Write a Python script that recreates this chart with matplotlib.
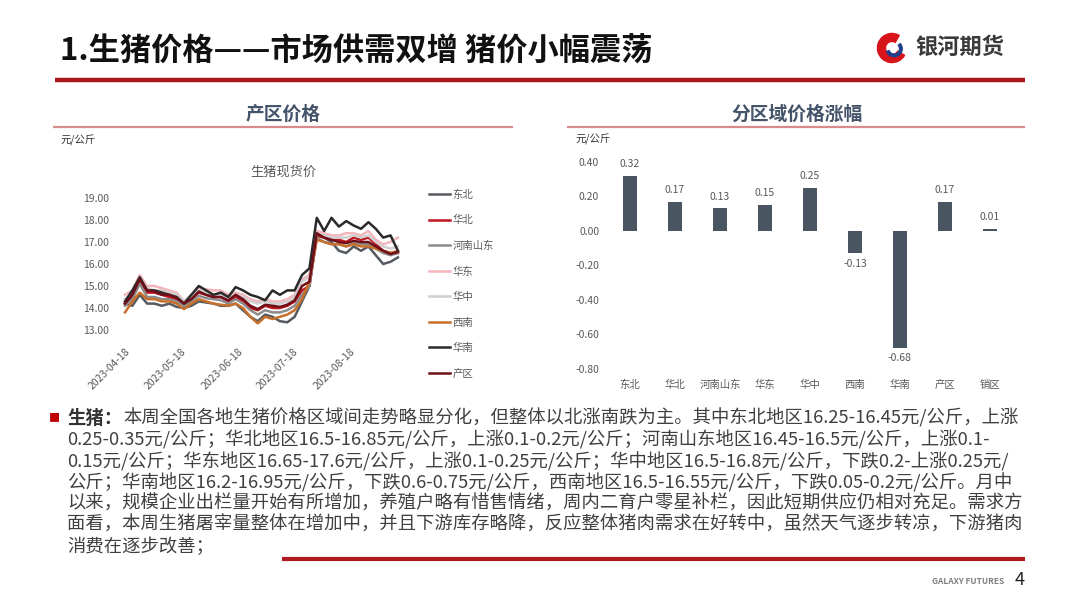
import numpy as np
import pandas as pd
import matplotlib
matplotlib.use("Agg")
import matplotlib.pyplot as plt
import matplotlib.dates as mdates
from matplotlib.lines import Line2D
from matplotlib.patches import Wedge

plt.rcParams['font.family'] = ['Noto Sans CJK SC', 'DejaVu Sans']

# ---- 数据 ----
dates = pd.date_range('2023-04-18', periods=38, freq='4D')

north_east = [14.2, 14.1, 14.6, 14.2, 14.2, 14.1, 14.2, 14.05, 14.0, 14.1, 14.3, 14.25, 14.2, 14.1,
              14.1, 14.2, 13.9, 13.6, 13.4, 13.7, 13.6, 13.4, 13.35, 13.6, 14.3, 15.0, 17.3, 17.2,
              17.0, 16.6, 16.5, 16.8, 16.6, 16.8, 16.4, 16.0, 16.1, 16.3]
north = [14.2, 14.5, 15.2, 14.7, 14.7, 14.6, 14.5, 14.4, 14.2, 14.4, 14.7, 14.6, 14.5, 14.5,
         14.3, 14.5, 14.3, 14.0, 13.9, 14.1, 14.0, 14.0, 14.1, 14.3, 14.8, 15.0, 17.3, 17.2,
         17.1, 17.1, 17.0, 17.2, 17.1, 17.2, 16.9, 16.6, 16.5, 16.5]
henan_sd = [14.1, 14.4, 15.1, 14.5, 14.5, 14.4, 14.4, 14.3, 14.1, 14.3, 14.55, 14.45, 14.4, 14.35,
            14.2, 14.4, 14.2, 13.9, 13.7, 13.9, 13.8, 13.8, 13.9, 14.1, 14.6, 15.0, 17.2, 17.0,
            16.9, 16.9, 16.8, 16.95, 16.9, 16.9, 16.7, 16.5, 16.4, 16.5]
east = [14.6, 14.8, 15.5, 15.0, 15.0, 14.9, 14.8, 14.7, 14.3, 14.6, 14.9, 14.85, 14.8, 14.8,
        14.6, 14.7, 14.6, 14.4, 14.3, 14.4, 14.3, 14.3, 14.4, 14.6, 15.3, 15.5, 17.5, 17.4,
        17.3, 17.3, 17.4, 17.4, 17.3, 17.5, 17.1, 16.9, 17.0, 17.2]
central = [14.4, 14.7, 15.3, 14.9, 14.8, 14.8, 14.7, 14.6, 14.3, 14.5, 14.8, 14.7, 14.6, 14.6,
           14.5, 14.6, 14.5, 14.3, 14.2, 14.3, 14.2, 14.2, 14.3, 14.5, 15.2, 15.4, 17.4, 17.3,
           17.2, 17.2, 17.2, 17.3, 17.2, 17.3, 17.0, 16.8, 16.7, 16.8]
south_west = [13.8, 14.3, 14.7, 14.4, 14.4, 14.3, 14.3, 14.2, 13.95, 14.2, 14.4, 14.3, 14.2, 14.15,
              14.1, 14.2, 14.0, 13.6, 13.3, 13.6, 13.5, 13.6, 13.7, 13.9, 14.4, 15.2, 17.1, 17.0,
              16.9, 16.9, 16.8, 16.9, 16.8, 16.8, 16.7, 16.6, 16.5, 16.6]
south = [14.3, 14.8, 15.4, 14.8, 14.8, 14.7, 14.6, 14.5, 14.2, 14.6, 15.0, 14.8, 14.6, 14.7,
         14.5, 14.95, 14.8, 14.6, 14.5, 14.35, 14.8, 14.6, 14.8, 14.8, 15.5, 15.8, 18.1, 17.5,
         18.1, 17.7, 17.95, 17.75, 17.6, 17.9, 17.6, 17.2, 17.3, 16.6]
producing = [14.2, 14.6, 15.3, 14.8, 14.75, 14.6, 14.6, 14.45, 14.2, 14.4, 14.75, 14.6, 14.5, 14.5,
             14.35, 14.6, 14.4, 14.1, 13.95, 14.15, 14.1, 14.05, 14.15, 14.35, 15.0, 15.2, 17.4, 17.2,
             17.1, 17.0, 16.95, 17.05, 17.0, 17.0, 16.8, 16.6, 16.45, 16.55]

series_names = ['东北', '华北', '河南山东', '华东', '华中', '西南', '华南', '产区']
series_vals = [north_east, north, henan_sd, east, central, south_west, south, producing]
series_colors = ['#555a60', '#c0161e', '#8c8c8c', '#f4b6bc', '#d0d0d0', '#c8702a', '#2a2a2a', '#6e0f1a']

regions = ['东北', '华北', '河南山东', '华东', '华中', '西南', '华南', '产区', '销区']
changes = [0.32, 0.17, 0.13, 0.15, 0.25, -0.13, -0.68, 0.17, 0.01]

text_lines = [
    "本周全国各地生猪价格区域间走势略显分化，但整体以北涨南跌为主。其中东北地区16.25-16.45元/公斤，上涨",
    "0.25-0.35元/公斤；华北地区16.5-16.85元/公斤，上涨0.1-0.2元/公斤；河南山东地区16.45-16.5元/公斤，上涨0.1-",
    "0.15元/公斤；华东地区16.65-17.6元/公斤，上涨0.1-0.25元/公斤；华中地区16.5-16.8元/公斤，下跌0.2-上涨0.25元/",
    "公斤；华南地区16.2-16.95元/公斤，下跌0.6-0.75元/公斤，西南地区16.5-16.55元/公斤，下跌0.05-0.2元/公斤。月中",
    "以来，规模企业出栏量开始有所增加，养殖户略有惜售情绪，周内二育户零星补栏，因此短期供应仍相对充足。需求方",
    "面看，本周生猪屠宰量整体在增加中，并且下游库存略降，反应整体猪肉需求在好转中，虽然天气逐步转凉，下游猪肉",
    "消费在逐步改善；",
]

W, H = 1080, 608
fig = plt.figure(figsize=(10.8, 6.08), dpi=100)


def fx(x):
    return x / W


def fy(y):
    return 1 - y / H


def hline(x0, x1, y, color, lw):
    fig.add_artist(Line2D([fx(x0), fx(x1)], [fy(y), fy(y)], transform=fig.transFigure,
                          color=color, lw=lw, solid_capstyle='butt'))


def two_dec(v, pos):
    v = round(v, 2)
    if v == 0:
        v = 0.0
    return f'{v:.2f}'


# 标题
fig.text(fx(60), fy(52), '1.生猪价格——市场供需双增 猪价小幅震荡', fontsize=22.5, fontweight='bold',
         color='#111111', va='center', ha='left')
hline(55, 1025, 80, '#a8161c', 3.2)

# logo
ax_logo = fig.add_axes([fx(875), fy(64), fx(34), 32 / H])
ax_logo.set_xlim(-1.1, 1.1)
ax_logo.set_ylim(-1.1, 1.1)
ax_logo.set_aspect('equal')
ax_logo.axis('off')
ax_logo.add_patch(Wedge((0, 0), 1.0, 60, 330, width=0.55, color='#d7141a'))
ax_logo.add_patch(Wedge((0.15, -0.05), 0.55, 200, 40, width=0.18, color='#1f3f8f'))
fig.text(fx(915), fy(47), '银河期货', fontsize=16, fontweight='bold', color='#3a3a3a',
         va='center', ha='left')

# 小节标题
fig.text(fx(283), fy(114), '产区价格', fontsize=13.5, fontweight='bold', color='#44546a',
         ha='center', va='center')
hline(53, 513, 127, '#d98a8a', 1.6)
fig.text(fx(797), fy(114), '分区域价格涨幅', fontsize=13.5, fontweight='bold', color='#44546a',
         ha='center', va='center')
hline(567, 1025, 127, '#d98a8a', 1.6)
fig.text(fx(60), fy(140), '元/公斤', fontsize=7.5, color='#333333', va='center')
fig.text(fx(575), fy(139), '元/公斤', fontsize=7.5, color='#333333', va='center')

# ---- 左图：生猪现货价 ----
x0d = pd.Timestamp('2023-04-16')
x1d = pd.Timestamp('2023-09-16')
px_day = 1.844
left_px = 125 - 2 * px_day
right_px = left_px + (x1d - x0d).days * px_day
top_px = 198 - 0.5 * 22
bot_px = 330 + 0.5 * 22
ax = fig.add_axes([fx(left_px), fy(bot_px), (right_px - left_px) / W, (bot_px - top_px) / H])
for name, vals, c in zip(series_names, series_vals, series_colors):
    ax.plot(dates, vals, color=c, lw=1.8, label=name)
ax.set_xlim(x0d, x1d)
ax.set_ylim(12.5, 19.5)
ax.set_yticks(np.arange(13, 19.01, 1))
ax.yaxis.set_major_formatter(plt.FuncFormatter(two_dec))
ax.set_xticks(pd.to_datetime(['2023-04-18', '2023-05-18', '2023-06-18', '2023-07-18', '2023-08-18']))
ax.xaxis.set_major_formatter(mdates.DateFormatter('%Y-%m-%d'))
for lbl in ax.get_xticklabels():
    lbl.set_rotation(45)
    lbl.set_ha('right')
    lbl.set_rotation_mode('anchor')
ax.tick_params(axis='both', length=0, labelsize=7.5, labelcolor='#595959')
ax.tick_params(axis='y', pad=9)
ax.tick_params(axis='x', pad=4)
for s in ax.spines.values():
    s.set_visible(False)
ax.set_facecolor('none')
fig.text(fx(283), fy(172), '生猪现货价', fontsize=9.5, color='#595959', ha='center', va='center')

fig.legend(*ax.get_legend_handles_labels(), loc='upper left', bbox_to_anchor=(fx(420), fy(180)),
           frameon=False, fontsize=7.5, labelspacing=1.48, handlelength=2.0, handletextpad=0.2,
           labelcolor='#595959')

# ---- 右图：分区域价格涨幅 ----
ax2 = fig.add_axes([fx(607.5), fy(377.2), 405 / W, (377.2 - 153.4) / H])
xpos = np.arange(len(regions))
ax2.bar(xpos, changes, width=0.31, color='#4a5562')
ax2.set_xlim(-0.5, len(regions) - 0.5)
ax2.set_ylim(-0.85, 0.45)
ax2.set_yticks(np.arange(-0.8, 0.41, 0.2))
ax2.yaxis.set_major_formatter(plt.FuncFormatter(two_dec))
ax2.set_xticks(xpos)
ax2.set_xticklabels(regions)
ax2.tick_params(axis='both', length=0, labelsize=7.5, labelcolor='#595959')
ax2.tick_params(axis='y', pad=6)
ax2.tick_params(axis='x', pad=2)
for s in ax2.spines.values():
    s.set_visible(False)
ax2.set_facecolor('none')
for xi, v in zip(xpos, changes):
    if v >= 0:
        ax2.annotate(f'{v:.2f}', (xi, v), xytext=(0, 5), textcoords='offset points',
                     ha='center', va='bottom', fontsize=7.5, color='#595959')
    else:
        ax2.annotate(f'{v:.2f}', (xi, v), xytext=(0, -4), textcoords='offset points',
                     ha='center', va='top', fontsize=7.5, color='#595959')

# ---- 文字说明 ----
fs = 13.2
fig.text(fx(49), fy(418), '■', fontsize=8, color='#c00000', va='center', ha='left')
lead = fig.text(fx(67), fy(418), '生猪：', fontsize=fs, fontweight='bold', color='#333333',
                va='center')
renderer = fig.canvas.get_renderer()
lead_end = lead.get_window_extent(renderer=renderer).x1 + 1
line_y = [418, 440, 462, 483, 504, 525, 547]
for i, (t, y) in enumerate(zip(text_lines, line_y)):
    x = lead_end if i == 0 else 67
    fig.text(fx(x), fy(y), t, fontsize=fs, color='#404040', va='center', ha='left')

hline(282, 1025, 559, '#ae1a20', 3)
fig.text(fx(1004), fy(582), 'GALAXY FUTURES', fontsize=6, fontweight='bold', color='#7f7f7f',
         ha='right', va='center')
fig.text(fx(1015), fy(580), '4', fontsize=13, color='#222222', ha='left', va='center')

fig.savefig('out.png', dpi=100)
